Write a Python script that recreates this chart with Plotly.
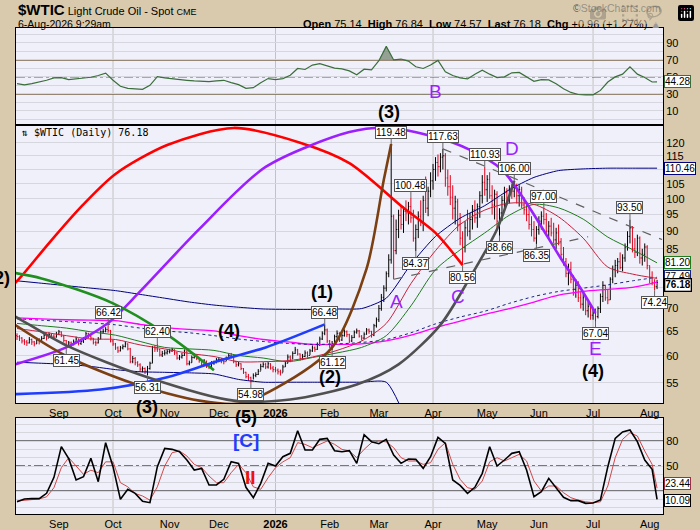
import math
import pandas as pd
import plotly.graph_objects as go

# daily sessions shown on the chart
sessions = pd.bdate_range("2025-08-07", "2026-08-06")

closes = [
    # Aug 2025
    63.9, 63.6, 63.0, 62.8, 62.6, 63.3, 62.8, 62.4, 63.2, 62.9, 63.5, 64.2, 63.6, 64.3, 64.0, 63.8, 64.4,
    # Sep
    64.9, 64.0, 63.1, 62.0, 62.6, 62.3, 62.8, 63.4, 62.5, 62.9, 63.3, 64.5, 64.0, 63.6, 62.7, 62.6, 63.4, 64.9, 65.0, 65.4, 65.2, 63.0,
    # Oct
    62.4, 61.6, 61.0, 61.6, 61.9, 62.4, 61.4, 58.9, 59.5, 58.7, 58.3, 57.5, 57.6, 57.1, 57.6, 58.6, 61.7, 61.4, 61.3, 60.2, 60.5, 60.6, 60.9,
    # Nov
    61.0, 61.3, 60.6, 59.6, 59.8, 60.1, 61.0, 58.5, 58.7, 59.7, 60.1, 59.5, 59.1, 58.3, 59.0, 58.1, 58.0, 58.6, 58.7, 59.3,
    # Dec
    59.3, 59.0, 58.9, 59.6, 60.1, 60.0, 58.9, 58.3, 58.5, 57.6, 56.9, 56.1, 55.9, 55.4, 56.3, 56.5, 57.1, 58.0, 58.4, 57.9, 58.5, 57.7, 57.4,
    # Jan 2026
    57.3, 57.0, 56.8, 57.9, 58.6, 59.8, 59.2, 60.5, 61.2, 60.4, 59.5, 59.9, 60.6, 60.1, 61.0, 61.6, 61.3, 62.2, 63.4, 64.6, 65.3, 63.0,
    # Feb
    62.0, 62.4, 63.9, 64.6, 63.2, 64.1, 64.9, 64.3, 63.0, 63.7, 64.8, 65.1, 64.0, 63.6, 64.4, 65.3, 65.0, 64.2, 66.2, 67.5,
    # Mar
    70.0, 72.6, 74.8, 78.4, 82.0, 94.5, 84.5, 90.5, 94.8, 92.0, 96.0, 95.5, 97.5, 94.0, 88.0, 90.5, 94.5, 92.5, 99.5, 97.0, 102.5, 106.0,
    # Apr
    110.0, 112.5, 111.0, 114.5, 115.0, 107.0, 104.0, 100.5, 97.0, 99.0, 92.0, 88.0, 85.5, 91.0, 90.0, 93.5, 96.5, 94.0, 97.5, 101.0, 105.5, 103.0,
    # May
    106.5, 101.0, 98.0, 101.5, 93.0, 95.5, 99.5, 102.0, 100.5, 103.5, 102.5, 104.0, 101.0, 103.0, 98.0, 96.5, 95.0, 92.0, 90.5, 88.0, 90.5,
    # Jun
    93.0, 94.5, 93.5, 90.0, 91.5, 89.5, 87.5, 89.5, 87.0, 83.5, 81.5, 78.5, 79.5, 77.0, 74.5, 75.5, 72.5, 71.0, 72.5, 69.5, 70.5, 68.5,
    # Jul
    69.0, 68.2, 70.0, 72.8, 75.5, 72.5, 72.0, 77.0, 79.5, 80.5, 81.5, 80.0, 82.5, 85.5, 88.5, 91.0, 85.0, 84.0, 88.0, 82.5, 83.5, 85.5, 80.5,
    # Aug
    77.5, 76.2, 75.22, 76.18,
]
highs = [
    64.6, 64.2, 63.8, 63.4, 63.2, 63.8, 63.5, 63.0, 63.7, 63.6, 64.0, 64.6, 64.3, 64.8, 64.6, 64.4, 64.9,
    65.3, 65.0, 64.2, 63.2, 63.0, 62.9, 63.3, 63.9, 63.5, 63.3, 63.8, 64.9, 64.7, 64.2, 63.6, 63.1, 63.8, 65.2, 65.6, 65.9, 66.42, 65.3,
    63.2, 62.6, 61.9, 62.0, 62.3, 62.8, 62.5, 61.6, 60.0, 59.8, 59.0, 58.6, 58.0, 57.8, 58.1, 58.9, 62.0, 62.1, 62.4, 61.4, 61.0, 61.2, 61.3,
    61.4, 61.6, 61.3, 60.8, 60.2, 60.6, 61.3, 61.0, 59.1, 60.1, 60.5, 60.3, 59.6, 59.3, 59.4, 59.1, 58.6, 59.0, 59.1, 59.6,
    59.8, 59.6, 59.3, 59.9, 60.5, 60.6, 60.1, 59.0, 58.9, 58.6, 57.7, 57.0, 56.6, 56.1, 56.7, 56.9, 57.5, 58.5, 58.8, 58.7, 58.9, 58.6, 58.1,
    57.9, 57.6, 57.4, 58.3, 59.0, 60.3, 60.1, 60.9, 61.8, 61.4, 60.5, 60.4, 61.1, 60.9, 61.4, 62.1, 61.9, 62.7, 63.9, 65.0, 66.48, 65.6,
    63.2, 63.0, 64.3, 65.2, 64.8, 64.5, 65.4, 65.2, 64.5, 64.2, 65.2, 65.6, 65.3, 64.2, 64.8, 65.7, 65.6, 65.1, 66.6, 68.0,
    70.8, 73.4, 75.5, 79.0, 83.5, 119.48, 95.0, 93.5, 96.5, 98.0, 97.5, 99.5, 99.0, 100.48, 96.5, 92.0, 96.0, 99.5, 101.0, 107.5, 104.0, 109.0,
    112.0, 114.5, 115.5, 116.0, 117.63, 116.0, 110.0, 108.0, 104.5, 101.0, 100.0, 95.5, 90.0, 93.0, 96.5, 95.5, 98.0, 99.5, 98.5, 102.5, 108.0, 110.93,
    108.0, 109.0, 104.5, 103.0, 102.5, 97.0, 101.0, 104.0, 103.5, 104.5, 105.0, 106.0, 105.0, 104.5, 104.0, 100.5, 99.0, 97.0, 94.5, 93.0, 91.5,
    94.5, 96.0, 97.0, 95.5, 93.0, 94.0, 92.5, 91.0, 92.0, 88.0, 85.5, 82.5, 81.0, 81.5, 78.0, 77.0, 76.5, 74.0, 73.5, 73.0, 71.5, 71.0,
    70.0, 70.0, 70.5, 73.5, 76.5, 75.5, 74.5, 77.5, 80.5, 82.0, 82.5, 84.0, 83.5, 86.5, 90.0, 93.5, 91.5, 88.0, 89.0, 88.5, 85.0, 86.5, 86.0,
    80.5, 79.0, 77.0, 76.84,
]
lows = [
    63.2, 63.0, 62.5, 62.2, 62.0, 62.5, 62.2, 61.9, 62.4, 62.3, 62.8, 63.4, 63.1, 63.6, 63.5, 63.2, 63.7,
    64.2, 63.8, 62.7, 61.45, 61.8, 61.8, 62.1, 62.6, 62.1, 62.2, 62.6, 63.3, 63.6, 63.1, 62.3, 62.0, 62.5, 63.4, 64.5, 64.8, 64.7, 62.7,
    62.0, 61.2, 60.6, 60.9, 61.3, 61.7, 61.1, 58.6, 58.6, 58.2, 57.9, 57.0, 56.9, 56.6, 56.31, 57.4, 58.6, 60.8, 60.8, 59.9, 59.8, 60.1, 60.3,
    60.5, 60.8, 60.2, 59.3, 59.2, 59.5, 60.0, 58.2, 58.2, 58.7, 59.5, 59.2, 58.7, 57.9, 58.2, 57.7, 57.5, 57.9, 58.3, 58.6,
    58.8, 58.6, 58.4, 59.0, 59.4, 59.5, 58.6, 57.9, 58.0, 57.3, 56.6, 55.8, 55.4, 54.98, 55.6, 56.0, 56.4, 57.2, 57.8, 57.5, 57.6, 57.4, 56.9,
    56.9, 56.5, 56.3, 56.9, 57.9, 58.6, 58.8, 59.4, 60.4, 60.1, 59.1, 59.2, 59.8, 59.7, 60.2, 60.8, 60.8, 61.2, 62.0, 63.2, 64.2, 62.6,
    61.6, 61.12, 62.3, 63.5, 62.8, 63.0, 63.9, 63.8, 62.6, 62.8, 63.6, 64.5, 63.7, 63.1, 63.4, 64.3, 64.5, 63.7, 64.0, 65.8,
    67.0, 69.5, 71.5, 74.0, 77.5, 81.0, 77.0, 83.5, 88.0, 90.5, 89.5, 93.0, 92.0, 92.5, 87.0, 84.37, 88.0, 91.5, 90.0, 95.5, 94.5, 100.5,
    103.0, 106.0, 107.5, 109.0, 110.0, 104.0, 101.0, 98.0, 93.5, 92.0, 90.0, 86.0, 80.56, 84.0, 88.5, 87.5, 90.5, 92.5, 91.0, 94.0, 98.5, 101.0,
    99.0, 100.0, 95.0, 93.5, 91.0, 88.66, 93.0, 96.5, 98.0, 98.5, 100.0, 100.5, 98.5, 97.5, 97.0, 95.0, 93.0, 90.5, 88.5, 87.0, 86.35,
    89.0, 90.5, 92.0, 89.0, 87.5, 88.5, 86.5, 85.0, 86.0, 82.5, 80.5, 77.5, 75.5, 76.0, 73.0, 72.5, 71.5, 70.0, 69.5, 68.5, 68.0, 67.5,
    67.5, 67.04, 67.8, 69.0, 71.5, 71.8, 71.0, 72.0, 76.0, 77.5, 78.5, 79.5, 79.0, 81.5, 84.5, 86.5, 84.0, 82.5, 83.0, 81.0, 80.5, 81.5, 79.5,
    76.0, 75.5, 74.24, 74.57,
]
assert len(closes) == len(highs) == len(lows) == len(sessions)
opens = [64.1] + closes[:-1]
opens[-1] = 75.14

# overlays, read every 10th session
ma_dates = sessions[::10]
sma20 = [65.6, 64.9, 64.1, 63.4, 63.3, 62.2, 61.4, 60.5, 59.9, 58.9, 58.9, 59.1, 59.8, 61.1,
         63.0, 66.7, 75.9, 84.5, 92.0, 96.4, 98.6, 98.2, 94.3, 88.0, 80.1, 78.3, 77.2]
sma50 = [66.7, 66.2, 65.7, 64.9, 64.2, 62.9, 61.7, 61.4, 61.1, 60.1, 59.6, 58.9, 59.7, 60.6,
         61.7, 64.1, 70.6, 79.4, 84.7, 89.5, 94.8, 98.2, 97.1, 93.6, 88.3, 84.8, 81.2]
sma200 = [67.9, 67.7, 67.5, 67.4, 67.3, 66.5, 65.8, 65.4, 65.1, 64.1, 63.3, 62.8, 62.3, 62.3,
          62.4, 63.0, 64.2, 65.8, 67.2, 68.7, 70.0, 71.5, 73.1, 74.0, 74.5, 75.0, 76.3]
ema150 = [67.7, 67.4, 67.1, 66.8, 66.4, 65.7, 65.1, 64.7, 64.1, 63.4, 62.9, 62.5, 62.3, 62.4,
          62.7, 63.3, 64.7, 66.6, 68.1, 69.4, 71.2, 72.8, 74.0, 74.8, 75.6, 76.6, 77.49]
upper_band = [76.6, 76.0, 75.4, 74.8, 74.2, 73.3, 72.4, 71.5, 70.8, 70.3, 69.9, 69.8, 69.8, 69.9,
              70.0, 72.4, 80.8, 88.5, 93.9, 97.8, 103.0, 107.2, 109.6, 110.2, 110.46, 110.46, 110.46]
lower_dates = sessions[:161:10]
lower_band = [58.8, 58.6, 58.4, 58.0, 57.4, 57.0, 56.9, 56.8, 56.6, 55.6, 55.1, 55.1, 55.1, 55.1,
              55.1, 55.1, 47.0]

# indicators, read every 3rd session plus the last one
ind_dates = list(sessions[::3]) + [sessions[-1]]
rsi = [42.1, 40.6, 42.1, 43.7, 46.1, 48.9, 49.3, 46.9, 47.7, 48.1,
       49.7, 51.7, 54.5, 46.1, 39.0, 36.6, 35.8, 35.4, 40.2, 50.5,
       48.9, 47.7, 46.9, 46.1, 45.3, 44.5, 44.5, 45.3, 46.1, 43.3,
       41.0, 36.6, 37.4, 43.3, 48.1, 46.9, 48.1, 52.1, 60.0, 58.8,
       64.0, 65.6, 62.8, 60.4, 59.6, 57.2, 52.5, 59.2, 58.4, 69.1,
       86.0, 70.0, 71.1, 68.7, 62.0, 60.0, 64.0, 69.5, 56.0, 51.7,
       48.9, 47.7, 53.3, 58.0, 53.3, 49.3, 50.1, 54.9, 55.3, 50.1,
       44.9, 46.9, 46.5, 42.1, 36.2, 31.8, 29.4, 29.0, 29.0, 34.2,
       44.1, 50.1, 53.3, 62.0, 53.3, 49.3, 44.1, 44.28]
stoch_k = [7.2, 10.4, 10.8, 10.8, 17.2, 36.4, 73.2, 58.8, 33.2, 37.2,
           59.2, 31.2, 78.0, 49.2, 10.0, 22.0, 17.2, 7.6, 6.0, 49.2,
           71.2, 70.0, 67.2, 57.2, 45.2, 47.2, 27.2, 27.2, 34.0, 55.2,
           53.2, 24.4, 12.0, 29.2, 53.2, 50.0, 61.2, 65.2, 92.4, 69.2,
           69.2, 82.0, 83.2, 68.4, 67.2, 68.4, 53.2, 87.6, 79.2, 76.8,
           82.0, 63.2, 53.2, 58.4, 58.0, 47.2, 61.2, 84.4, 77.2, 33.2,
           26.8, 17.2, 24.4, 41.2, 73.2, 50.0, 57.2, 65.2, 67.2, 45.2,
           13.2, 19.2, 35.2, 23.2, 12.4, 8.4, 8.4, 5.2, 5.6, 9.2,
           49.2, 83.2, 90.8, 93.2, 79.2, 57.2, 46.0, 10.09]
stoch_d = [8, 9, 10, 10.5, 13, 24, 48, 60, 50, 40,
           45, 42, 55, 55, 30, 25, 17, 14, 9, 25,
           50, 66, 68, 62, 52, 48, 38, 30, 30, 42,
           52, 42, 25, 22, 36, 48, 55, 60, 78, 76,
           72, 76, 80, 76, 70, 68, 60, 70, 78, 80,
           79, 72, 60, 56, 56, 52, 54, 70, 78, 52,
           34, 24, 22, 32, 55, 60, 56, 60, 64, 56,
           32, 20, 26, 26, 18, 12, 9, 7, 6, 7,
           26, 60, 82, 90, 86, 68, 52, 23.44]

# hand-drawn arcs (date, price control points)
red_arc_d = ["2025-07-30", "2025-08-08", "2025-08-26", "2025-09-12", "2025-10-02", "2025-10-31",
             "2025-12-09", "2026-01-15", "2026-02-12", "2026-03-16", "2026-04-02", "2026-04-17"]
red_arc_p = [71.7, 77.2, 86.6, 97.4, 108.4, 119.1, 125.9, 120.0, 112.3, 97.1, 89.5, 80.6]
purple_arc_d = ["2025-07-29", "2025-09-04", "2025-09-29", "2025-10-16", "2025-11-19", "2025-12-26",
                "2026-02-12", "2026-03-06", "2026-04-02", "2026-04-22", "2026-05-11", "2026-05-26",
                "2026-06-12", "2026-06-24", "2026-07-02"]
purple_arc_p = [57.3, 61.7, 66.8, 74.0, 90.6, 110.9, 124.2, 125.9, 122.2, 117.2, 109.9, 97.4, 82.3, 74.7, 69.0]
green_arc_d = ["2025-07-29", "2025-08-21", "2025-10-01", "2025-10-31", "2025-11-27"]
green_arc_p = [79.4, 77.2, 71.2, 64.3, 57.3]
blue_arc_d = ["2025-07-29", "2025-09-24", "2025-10-31", "2025-11-27", "2025-12-26", "2026-01-29"]
blue_arc_p = [52.9, 53.8, 56.0, 58.8, 61.7, 66.5]
brown_arc_d = ["2025-07-29", "2025-09-04", "2025-10-13", "2025-11-19", "2025-12-11", "2026-01-01",
               "2026-02-03", "2026-02-23", "2026-03-04", "2026-03-09"]
brown_arc_p = [69.3, 60.0, 54.9, 51.9, 51.4, 54.0, 61.7, 79.7, 106.4, 119.5]
gray_arc_d = ["2025-07-29", "2025-08-05", "2025-09-04", "2025-10-21", "2025-12-09", "2026-01-09",
              "2026-02-17", "2026-03-12", "2026-04-06", "2026-04-22", "2026-05-07", "2026-05-18"]
gray_arc_p = [70.5, 68.6, 62.1, 56.0, 51.9, 52.1, 54.7, 58.4, 66.4, 77.4, 90.6, 106.0]

upper_trend_d = ["2026-04-07", "2026-08-10"]
upper_trend_p = [117.63, 87.6]
lower_trend_d = ["2026-03-10", "2026-06-29"]
lower_trend_p = [77.0, 88.4]

# price callouts
callout_d = ["2025-09-04", "2025-09-29", "2025-10-21", "2025-10-27", "2025-12-18", "2026-01-29",
             "2026-02-03", "2026-03-09", "2026-03-19", "2026-03-23", "2026-04-07", "2026-04-17",
             "2026-04-30", "2026-05-08", "2026-05-18", "2026-05-29", "2026-06-03", "2026-07-02",
             "2026-07-22", "2026-08-05"]
callout_p = [61.45, 66.42, 56.31, 62.40, 54.98, 66.48, 61.12, 119.48, 100.48, 84.37, 117.63, 80.56,
             110.93, 88.66, 106.00, 86.35, 97.00, 67.04, 93.50, 74.24]
callout_high = [False, True, False, True, False, True, False, True, True, False, True, False,
                True, False, True, False, True, False, True, False]

# wave labels inside the price panel
wave_d = ["2025-12-05", "2026-01-28", "2026-02-02", "2026-03-11", "2026-04-15", "2026-05-15",
          "2026-07-02", "2026-07-01"]
wave_p = [65.1, 73.8, 56.0, 71.7, 72.7, 117.9, 61.5, 57.1]
wave_t = ["(4)", "(1)", "(2)", "A", "C", "D", "E", "(4)"]

month_ticks = ["2025-09-01", "2025-10-01", "2025-11-03", "2025-12-01", "2026-01-01", "2026-02-02",
               "2026-03-02", "2026-04-01", "2026-05-01", "2026-06-01", "2026-07-01", "2026-08-03"]
month_labels = ["Sep", "Oct", "Nov", "Dec", "<b>2026</b>", "Feb", "Mar", "Apr", "May", "Jun", "Jul", "Aug"]
quarter_lines = ["2025-10-01", "2026-01-01", "2026-04-01", "2026-07-01"]

price_ticks = list(range(55, 121, 5))
# levels whose labels sit under the last-value tags
price_labels = ["" if v in (75, 80, 110) else str(v) for v in price_ticks]

TAN = "#d9caae"
PLOTBG = "#f0f0fa"
GRID = "#d6d6de"
NARROW = "Liberation Sans Narrow, Arial Narrow, Liberation Sans, Arial"
SANS = "Liberation Sans, Arial"
PURPLE = "#9b1fff"

fig = go.Figure()


def line(x, y, color, width=1, dash="solid", shape="spline", smooth=0.8, axes=("x2", "y2")):
    fig.add_trace(go.Scatter(x=x, y=y, mode="lines", xaxis=axes[0], yaxis=axes[1],
                             line=dict(color=color, width=width, dash=dash, shape=shape,
                                       smoothing=smooth if shape == "spline" else None),
                             hoverinfo="skip", showlegend=False))


# main panel overlays
line(ma_dates, upper_band, "#000080", 1, smooth=0.6)
line(lower_dates, lower_band, "#000080", 1, smooth=0.6)
line(ma_dates, sma200, "#ff00ff", 1.3)
line(ma_dates, ema150, "#1a237e", 1, dash="dot")
line(ma_dates, sma50, "#1e7b1e", 1)
line(ma_dates, sma20, "#c8203c", 1)

fig.add_trace(go.Ohlc(x=sessions, open=opens, high=highs, low=lows, close=closes,
                      xaxis="x2", yaxis="y2", tickwidth=0.35,
                      increasing=dict(line=dict(color="black", width=1)),
                      decreasing=dict(line=dict(color="#e0001c", width=1)),
                      hoverinfo="skip", showlegend=False))

line(red_arc_d, red_arc_p, "#ff0000", 2.6)
line(purple_arc_d, purple_arc_p, "#9b1fff", 2.6)
line(green_arc_d, green_arc_p, "#1f8f1f", 2.6)
line(blue_arc_d, blue_arc_p, "#1f3cff", 2.6)
line(brown_arc_d, brown_arc_p, "#7b3f12", 2.6)
line(gray_arc_d, gray_arc_p, "#505050", 2.6)
line(upper_trend_d, upper_trend_p, "#606060", 1.2, dash="dash", shape="linear")
line(lower_trend_d, lower_trend_p, "#606060", 1.2, dash="dash", shape="linear")

# RSI panel
rsi_hi = [max(v, 70) for v in rsi]
rsi_lo = [min(v, 30) for v in rsi]
for base, edge in ((70, rsi_hi), (30, rsi_lo)):
    fig.add_trace(go.Scatter(x=ind_dates, y=[base] * len(ind_dates), mode="lines", xaxis="x3", yaxis="y3",
                             line=dict(width=0), hoverinfo="skip", showlegend=False))
    fig.add_trace(go.Scatter(x=ind_dates, y=edge, mode="lines", xaxis="x3", yaxis="y3", fill="tonexty",
                             fillcolor="rgba(120,135,115,0.75)", line=dict(width=0),
                             hoverinfo="skip", showlegend=False))
line(ind_dates, rsi, "#3b6e3b", 1.2, shape="linear", axes=("x3", "y3"))

# stochastic panel
line(ind_dates, stoch_d, "#d04848", 1, shape="linear", axes=("x", "y"))
line(ind_dates, stoch_k, "black", 1.6, shape="linear", axes=("x", "y"))

xcommon = dict(type="date", range=["2025-08-06 14:00", "2026-08-10 10:00"],
               rangebreaks=[dict(bounds=["sat", "mon"])], rangeslider=dict(visible=False),
               showgrid=False, zeroline=False, automargin=False,
               showline=True, mirror=True, linecolor="black", linewidth=1, ticks="",
               tickvals=month_ticks, ticktext=month_labels,
               tickfont=dict(family=SANS, size=11, color="black"), fixedrange=True)
ycommon = dict(side="right", showgrid=True, gridcolor=GRID, gridwidth=1, zeroline=False,
               automargin=False,
               showline=True, mirror=True, linecolor="black", linewidth=1, ticks="",
               tickfont=dict(family=SANS, size=11, color="black"), fixedrange=True)

fig.update_layout(
    width=700, height=530, autosize=False,
    margin=dict(l=16, r=37, t=28, b=16),
    paper_bgcolor=TAN, plot_bgcolor=PLOTBG,
    showlegend=False,
    xaxis=dict(domain=[0, 1], anchor="y", **xcommon),
    xaxis2=dict(domain=[0, 1], anchor="y2", **xcommon),
    xaxis3=dict(domain=[0, 1], anchor="y3", showticklabels=False, **xcommon),
    yaxis=dict(domain=[0, 0.1975], anchor="x", range=[-7.6, 107.6],
               tickvals=list(range(0, 101, 10)),
               ticktext=["", "", "", "", "", "50", "", "", "80", "", ""], **ycommon),
    yaxis2=dict(domain=[0.2284, 0.8004], anchor="x2", type="log",
                range=[math.log10(51.5), math.log10(127.1)],
                tickvals=price_ticks, ticktext=price_labels, **ycommon),
    yaxis3=dict(domain=[0.8004, 1], anchor="x3", range=[-6.5, 107.6],
                tickvals=list(range(0, 101, 10)),
                ticktext=["", "10", "", "30", "", "50", "", "70", "", "90", ""], **ycommon),
)

shapes = []
for q in quarter_lines:
    for xr, yr in (("x", "y domain"), ("x2", "y2 domain"), ("x3", "y3 domain")):
        shapes.append(dict(type="line", xref=xr, yref=yr, x0=q, x1=q, y0=0, y1=1,
                           line=dict(color="#c2c2c2", width=1), layer="below"))
for lvl, dash, col, w in ((70, "solid", "#7a6448", 1.5), (30, "solid", "#7a6448", 1.5), (50, "dashdot", "#555555", 1)):
    shapes.append(dict(type="line", xref="paper", yref="y3", x0=0, x1=1, y0=lvl, y1=lvl,
                       line=dict(color=col, width=w, dash=dash), layer="below"))
for lvl, dash in ((80, "solid"), (20, "solid"), (50, "dashdot")):
    shapes.append(dict(type="line", xref="paper", yref="y", x0=0, x1=1, y0=lvl, y1=lvl,
                       line=dict(color="black", width=1.2, dash=dash), layer="below"))
shapes.append(dict(type="rect", xref="x2", yref="y2", x0="2026-08-05 10:00", x1="2026-08-06 14:00",
                   y0=math.log10(lows[-1]), y1=math.log10(highs[-1]),
                   fillcolor="#ffff33", line=dict(width=0), layer="below"))
fig.update_layout(shapes=shapes)

ann = []
# header
ann.append(dict(xref="paper", yref="paper", x=0, y=1.039, xanchor="left", yanchor="middle",
                showarrow=False,
                text="<b><span style='font-size:15px'>$WTIC</span></b> Light Crude Oil - Spot "
                     "<span style='font-size:9px'>CME</span>",
                font=dict(family=SANS, size=11, color="black")))
ann.append(dict(xref="paper", yref="paper", x=0, y=1.009, xanchor="left", yanchor="middle",
                showarrow=False, text="6-Aug-2026 9:29am",
                font=dict(family=SANS, size=10.5, color="black")))
ann.append(dict(xref="paper", yref="paper", x=1.0, y=1.041, xanchor="right", yanchor="middle",
                showarrow=False, text="©StockCharts.com",
                font=dict(family=SANS, size=10.5, color="#555555")))
ann.append(dict(xref="paper", yref="paper", x=1.0, y=1.008, xanchor="right", yanchor="middle",
                showarrow=False,
                text="<b>Open</b> 75.14  <b>High</b> 76.84  <b>Low</b> 74.57  <b>Last</b> 76.18  "
                     "<b>Chg</b> +0.96 (+1.27%) <span style='color:#999999'>▲</span>",
                font=dict(family=SANS, size=11, color="black")))
ann.append(dict(xref="paper", yref="paper", x=0.004, y=0.785, xanchor="left", yanchor="middle",
                showarrow=False, text="⇅ $WTIC (Daily) 76.18",
                font=dict(family="DejaVu Sans Mono", size=10, color="black")))

# price callouts
for d, p, hi in zip(callout_d, callout_p, callout_high):
    ann.append(dict(x=d, y=math.log10(p), xref="x2", yref="y2", text=f"{p:.2f}",
                    showarrow=True, arrowhead=0, arrowwidth=1, arrowcolor="#666666",
                    ax=0, ay=-12 if hi else 12, bgcolor="white", bordercolor="#555555",
                    borderwidth=1, borderpad=0, font=dict(family=SANS, size=10, color="black")))

# wave labels
for d, p, t in zip(wave_d, wave_p, wave_t):
    purple = t in ("A", "C", "D", "E")
    ann.append(dict(x=d, y=math.log10(p), xref="x2", yref="y2", showarrow=False,
                    xanchor="center", yanchor="middle",
                    text=t if purple else f"<b>{t}</b>",
                    font=dict(family=SANS if purple else NARROW, size=19 if purple else 18,
                              color=PURPLE if purple else "black")))
for d, yp, t in (("2026-03-06", 0.827, "<b>(3)</b>"), ("2025-10-21", 0.220, "<b>(3)</b>"),
                 ("2025-12-16", 0.199, "<b>(5)</b>")):
    ann.append(dict(x=d, y=yp, xref="x2", yref="paper", showarrow=False, text=t,
                    xanchor="center", yanchor="middle",
                    font=dict(family=NARROW, size=18, color="black")))
ann.append(dict(x="2026-04-02", y=0.870, xref="x2", yref="paper", showarrow=False, text="B",
                xanchor="center", yanchor="middle", font=dict(family=SANS, size=19, color=PURPLE)))
ann.append(dict(x=-0.006, y=math.log10(77.4), xref="paper", yref="y2", xanchor="right", yanchor="middle",
                showarrow=False, text="<b>(2)</b>", font=dict(family=NARROW, size=18, color="black")))
ann.append(dict(x="2025-12-16", y=81, xref="x", yref="y", showarrow=False, text="<b>[C]</b>",
                xanchor="center", yanchor="middle", font=dict(family=SANS, size=19, color="#1f3cff")))
ann.append(dict(x="2025-12-18", y=36, xref="x", yref="y", showarrow=False, text="<b>II</b>",
                xanchor="center", yanchor="middle", font=dict(family=SANS, size=19, color="#ee1111")))

# last-value tags on the right axis
tags = [("y2", math.log10(upper_band[-1]), f"{upper_band[-1]:.2f}", "#000080", False, 0),
        ("y2", math.log10(sma50[-1]), f"{sma50[-1]:.2f}", "#1e7b1e", False, 0),
        ("y2", math.log10(ema150[-1]), f"{ema150[-1]:.2f}", "#1a237e", False, 1),
        ("y2", math.log10(closes[-1]), f"{closes[-1]:.2f}", "black", True, -2),
        ("y3", rsi[-1], f"{rsi[-1]:.2f}", "#3b6e3b", False, 0),
        ("y", stoch_d[-1], f"{stoch_d[-1]:.2f}", "#a03040", False, 5),
        ("y", stoch_k[-1], f"{stoch_k[-1]:.2f}", "black", False, -1)]
for yr, yv, txt, col, bold, ys in tags:
    ann.append(dict(xref="paper", yref=yr, x=1, y=yv, xanchor="left", yanchor="middle",
                    xshift=1, yshift=ys,
                    showarrow=False, text=f"<b>{txt}</b>" if bold else txt,
                    bgcolor="white", bordercolor=col, borderwidth=1.3 if bold else 1, borderpad=0,
                    font=dict(family=SANS, size=10, color="black")))
fig.update_layout(annotations=ann)

# page has no body margin so the 700x530 figure fills the window
fig.write_html("out.html", post_script="document.body.style.margin='0px';"
                                       "document.body.style.background='" + TAN + "';")
